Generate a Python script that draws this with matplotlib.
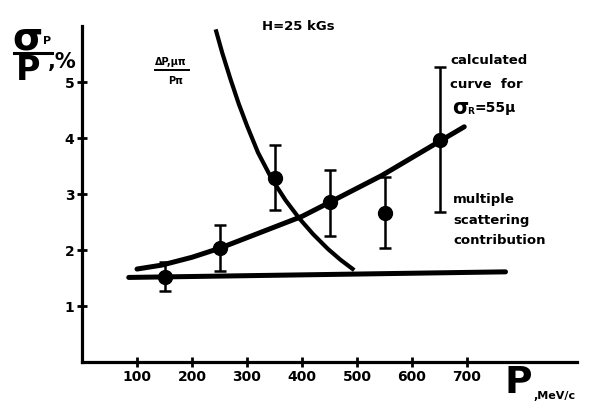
import matplotlib
matplotlib.use("Agg")
import matplotlib.pyplot as plt
from matplotlib.lines import Line2D

# ---- data ----
p_points = [150, 250, 350, 450, 550, 650]
sigma_points = [1.51, 2.03, 3.29, 2.86, 2.66, 3.96]
sigma_low = [1.27, 1.63, 2.71, 2.25, 2.04, 2.68]
sigma_high = [1.79, 2.45, 3.88, 3.43, 3.30, 5.26]

calc_p = [100, 145, 200, 250, 300, 400, 450, 545, 650, 695]
calc_sigma = [1.66, 1.73, 1.87, 2.03, 2.22, 2.60, 2.85, 3.33, 3.94, 4.20]

dp_p = [243, 255, 270, 285, 300, 320, 345, 370, 395, 420, 447, 470, 495]
dp_val = [5.94, 5.52, 5.05, 4.61, 4.22, 3.74, 3.27, 2.89, 2.565, 2.285, 2.02, 1.825, 1.64]

ms_p = [85, 770]
ms_sigma = [1.51, 1.61]

x_ticks = [100, 200, 300, 400, 500, 600, 700]
y_ticks = [1, 2, 3, 4, 5]

W, H = 590, 411
fig = plt.figure(figsize=(W / 100, H / 100), dpi=100)
fig.patch.set_facecolor("white")

ax = fig.add_axes([82 / W, 1 - 362 / H, 495 / W, 336 / H])
ax.set_xlim(0, 900)
ax.set_ylim(0, 6)
for s in ["top", "right"]:
    ax.spines[s].set_visible(False)
for s in ["left", "bottom"]:
    ax.spines[s].set_linewidth(2.3)
    ax.spines[s].set_color("black")

ax.set_xticks(x_ticks)
ax.set_xticklabels([str(v) for v in x_ticks], fontweight="bold", fontsize=10)
ax.set_yticks(y_ticks)
ax.set_yticklabels([str(v) for v in y_ticks], fontweight="bold", fontsize=10)
ax.tick_params(direction="inout", length=7, width=2, colors="black", pad=2)

lw_curve = 3.6
ax.plot(ms_p, ms_sigma, color="black", lw=lw_curve, solid_capstyle="round")
ax.plot(calc_p, calc_sigma, color="black", lw=lw_curve, solid_capstyle="round",
        solid_joinstyle="round")
ax.plot(dp_p, dp_val, color="black", lw=3.0, solid_capstyle="butt",
        solid_joinstyle="round")

yerr = [[s - lo for s, lo in zip(sigma_points, sigma_low)],
        [hi - s for s, hi in zip(sigma_points, sigma_high)]]
ax.errorbar(p_points, sigma_points, yerr=yerr, fmt="o", color="black",
            markersize=10, elinewidth=1.8, capsize=4.5, capthick=1.8)

bold = dict(fontweight="bold", color="black")


def fx(x):
    return x / W


def fy(y):
    return 1 - y / H


# y-axis label: sigma_P / P , %
fig.text(fx(27), fy(38), "σ", fontsize=28, ha="center", va="center", **bold)
fig.text(fx(47), fy(41), "P", fontsize=8, ha="center", va="center", **bold)
fig.add_artist(Line2D([fx(14), fx(52)], [fy(53), fy(53)], color="black", lw=2.2))
fig.text(fx(28), fy(71), "P", fontsize=24, ha="center", va="center", **bold)
fig.text(fx(62), fy(62), ",%", fontsize=15, ha="center", va="center", **bold)

# delta P annotation
fig.text(fx(171), fy(62), "ΔP,μπ", fontsize=7, ha="center", va="center", **bold)
fig.add_artist(Line2D([fx(155), fx(189)], [fy(70), fy(70)], color="black", lw=1.4))
fig.text(fx(176), fy(81), "Pπ", fontsize=7, ha="center", va="center", **bold)

fig.text(fx(298), fy(26), "H=25 kGs", fontsize=9.5, ha="center", va="center", **bold)

fig.text(fx(450), fy(61), "calculated", fontsize=9.5, ha="left", va="center", **bold)
fig.text(fx(450), fy(85), "curve  for", fontsize=9.5, ha="left", va="center", **bold)
fig.text(fx(452), fy(108), "σ", fontsize=15, ha="left", va="center", **bold)
fig.text(fx(467), fy(111), "R", fontsize=6.5, ha="left", va="center", **bold)
fig.text(fx(475), fy(108), "=55μ", fontsize=10, ha="left", va="center", **bold)

fig.text(fx(453), fy(199), "multiple", fontsize=9.5, ha="left", va="center", **bold)
fig.text(fx(453), fy(220), "scattering", fontsize=9.5, ha="left", va="center", **bold)
fig.text(fx(453), fy(240), "contribution", fontsize=9.5, ha="left", va="center", **bold)

# x-axis label
fig.text(fx(518), fy(383), "P", fontsize=27, ha="center", va="center", **bold)
fig.text(fx(533), fy(396), ",MeV/c", fontsize=8, ha="left", va="center", **bold)

fig.savefig("out.png", dpi=100, facecolor="white")
